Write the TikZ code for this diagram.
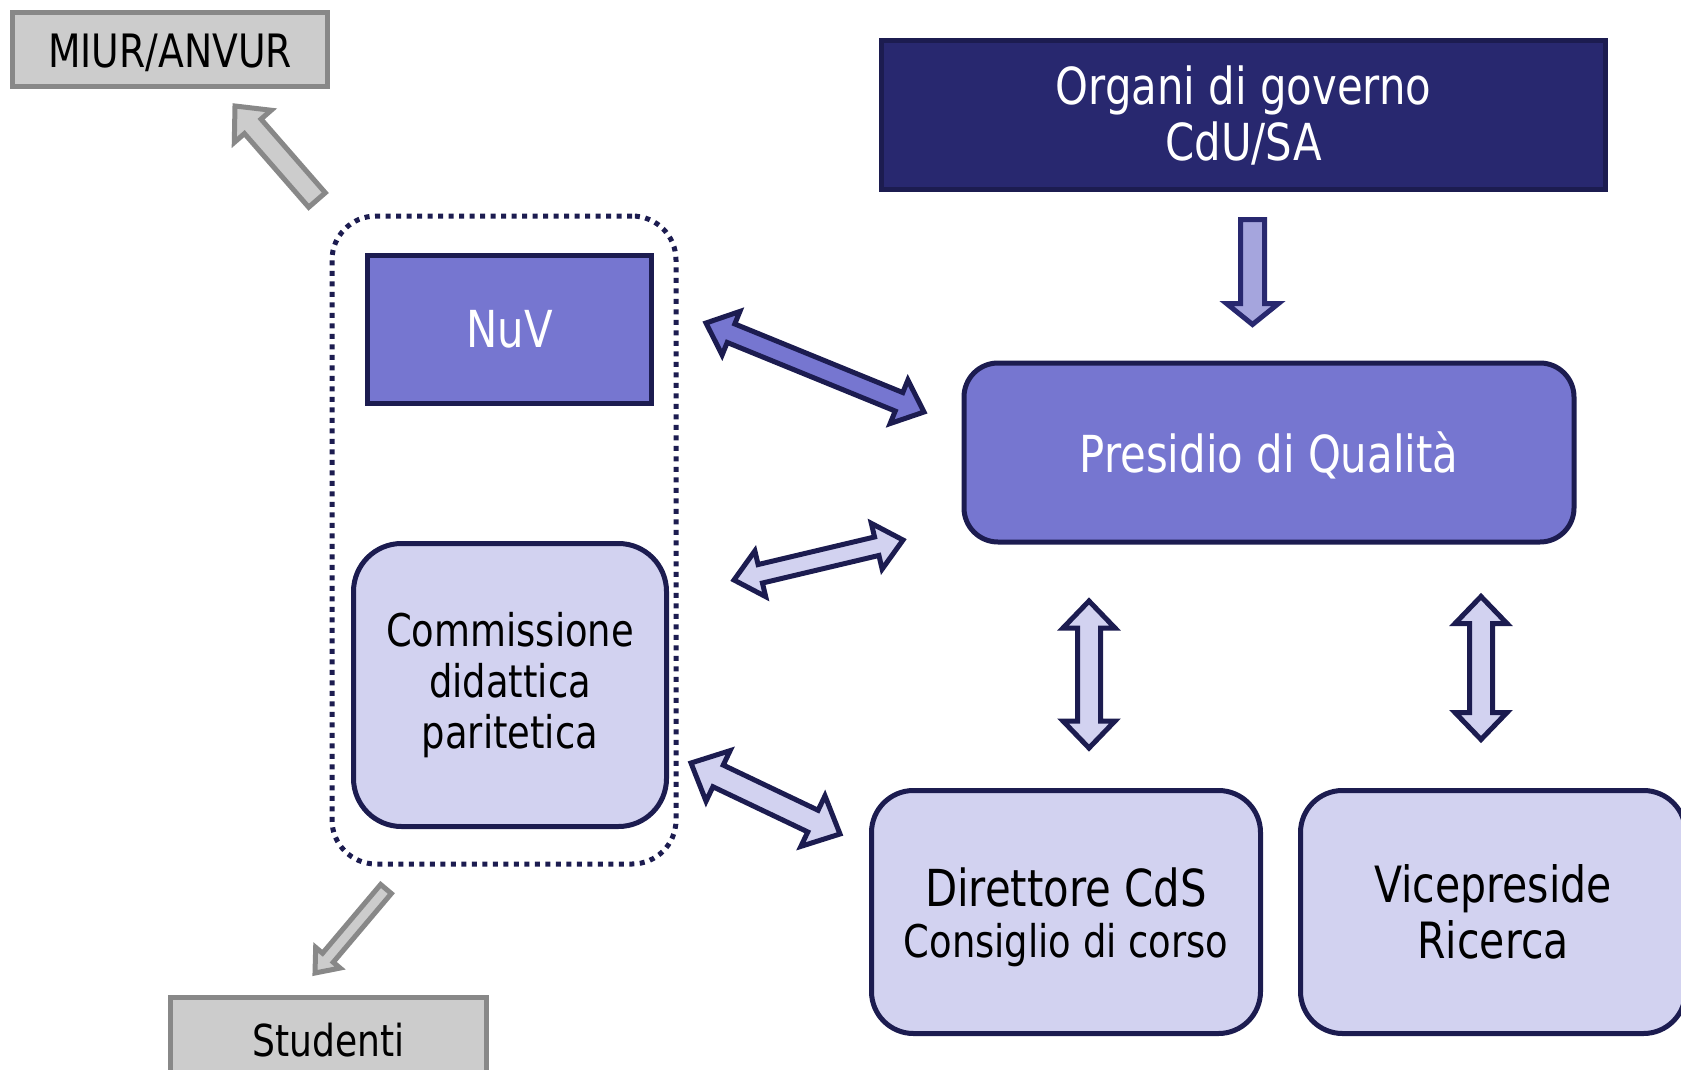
\documentclass[tikz,border=0pt]{standalone}
\usepackage{fontspec}
\setmainfont{DejaVu Sans}[FakeStretch=0.82]
\usetikzlibrary{calc}
\definecolor{navy}{HTML}{1C1C50}
\definecolor{navyfill}{HTML}{28286F}
\definecolor{midpurple}{HTML}{7676D0}
\definecolor{lightlav}{HTML}{D2D2F0}
\definecolor{arrowpurple}{HTML}{A5A5DD}
\definecolor{grayfill}{HTML}{CCCCCC}
\definecolor{grayline}{HTML}{888888}
\newcommand\dblarrow[6]{%
  \coordinate (qa) at ($(#2)!#6!(#3)$);
  \coordinate (qb) at ($(#3)!#6!(#2)$);
  \draw[#1] (#2) -- ($(qa)!#5!90:(#3)$) -- ($(qa)!#4!90:(#3)$) -- ($(qb)!#4!-90:(#2)$) -- ($(qb)!#5!-90:(#2)$) -- (#3) -- ($(qb)!#5!90:(#2)$) -- ($(qb)!#4!90:(#2)$) -- ($(qa)!#4!-90:(#3)$) -- ($(qa)!#5!-90:(#3)$) -- cycle;}
\newcommand\sglarrow[6]{%
  \coordinate (qb) at ($(#3)!#6!(#2)$);
  \draw[#1] ($(#2)!#4!90:(#3)$) -- ($(qb)!#4!-90:(#2)$) -- ($(qb)!#5!-90:(#2)$) -- (#3) -- ($(qb)!#5!90:(#2)$) -- ($(qb)!#4!90:(#2)$) -- ($(#2)!#4!-90:(#3)$) -- cycle;}
\newcommand\lowered[2]{\raisebox{-#1}[\height][\depth]{#2}}
\tikzset{
  graybox/.style={draw=grayline, fill=grayfill, line width=5pt, inner sep=0pt, outer sep=0pt, text=black},
  darkbox/.style={draw=navy, fill=navyfill, line width=5pt, inner sep=0pt, outer sep=0pt, text=white, align=center},
  midbox/.style={draw=navy, fill=midpurple, line width=5pt, inner sep=0pt, outer sep=0pt, text=white, align=center},
  lightbox/.style={draw=navy, fill=lightlav, line width=5pt, inner sep=0pt, outer sep=0pt, text=black, align=center},
  groupbox/.style={draw=navy, line width=5pt, dash pattern=on 5pt off 5.5pt, rounded corners=44pt, inner sep=0pt, outer sep=0pt},
  grayarrow/.style={draw=grayline, fill=grayfill, line width=5pt, line join=miter},
  navyarrow/.style={draw=navy, line width=5pt, line join=miter},
}
\begin{document}
\begin{tikzpicture}[x=1pt, y=-1pt]
\useasboundingbox (0,0) rectangle (1681,1070);
% boxes
\node[graybox, minimum width=315pt, minimum height=74pt, font=\fontsize{46}{50}\selectfont] (miur) at (170,49.5) {\lowered{3pt}{MIUR/ANVUR}};
\node[darkbox, minimum width=724pt, minimum height=149pt, font=\fontsize{51}{56}\selectfont] (gov) at (1243.5,115) {Organi di governo\\CdU/SA};
\node[groupbox, minimum width=344pt, minimum height=648pt] (grp) at (504,540) {};
\node[midbox, minimum width=284pt, minimum height=148pt, font=\fontsize{51}{56}\selectfont] (nuv) at (509.5,329.5) {NuV};
\node[midbox, rounded corners=34pt, minimum width=610pt, minimum height=179pt, font=\fontsize{51}{56}\selectfont] (pq) at (1269,452.5) {\lowered{3pt}{Presidio di Qualità}};
\node[lightbox, rounded corners=48pt, minimum width=313pt, minimum height=283pt, font=\fontsize{45}{51}\selectfont] (cdp) at (510,685) {Commissione\\didattica\\paritetica};
\node[lightbox, rounded corners=42pt, minimum width=389pt, minimum height=243pt] (dir) at (1066,912) {};
\node[align=center, inner sep=0pt, text=black, font=\fontsize{45}{51}\selectfont] (dirtext) at (1066,917) {{\fontsize{51}{51}\selectfont Direttore CdS}\\Consiglio di corso};
\node[lightbox, rounded corners=42pt, minimum width=385pt, minimum height=243pt, font=\fontsize{50}{56}\selectfont] (vice) at (1493,912) {Vicepreside\\Ricerca};
\node[graybox, minimum width=316pt, minimum height=85pt, font=\fontsize{44}{50}\selectfont] (stud) at (328.5,1040) {Studenti};
% arrow end points
\coordinate (miurT) at (317,200);   \coordinate (miurP) at (235,106);
\coordinate (stuT) at (386,889);    \coordinate (stuP) at (315,973);
\coordinate (govT) at (1252.5,219.5); \coordinate (govP) at (1252.5,324.5);
\coordinate (nuvA) at (706,323);    \coordinate (nuvB) at (924,412);
\coordinate (cdpA) at (734,580);    \coordinate (cdpB) at (903,540);
\coordinate (dirA) at (691,763);    \coordinate (dirB) at (840,834);
\coordinate (v1A) at (1089,601);    \coordinate (v1B) at (1089,748);
\coordinate (v2A) at (1481,596.5);  \coordinate (v2B) at (1481,739.5);
% arrows
\sglarrow{grayarrow}{miurT}{miurP}{11pt}{24.5pt}{27pt}
\sglarrow{grayarrow}{stuT}{stuP}{7pt}{16pt}{20pt}
\sglarrow{navyarrow, draw=navyfill, fill=arrowpurple}{govT}{govP}{12pt}{26pt}{21pt}
\dblarrow{navyarrow, fill=midpurple}{nuvA}{nuvB}{10pt}{23.5pt}{27pt}
\dblarrow{navyarrow, fill=lightlav}{cdpA}{cdpB}{9.5pt}{23.5pt}{27pt}
\dblarrow{navyarrow, fill=lightlav}{dirA}{dirB}{12pt}{28pt}{30pt}
\dblarrow{navyarrow, fill=lightlav}{v1A}{v1B}{11.5pt}{26pt}{27pt}
\dblarrow{navyarrow, fill=lightlav}{v2A}{v2B}{11.5pt}{26pt}{27pt}
\end{tikzpicture}
\end{document}
